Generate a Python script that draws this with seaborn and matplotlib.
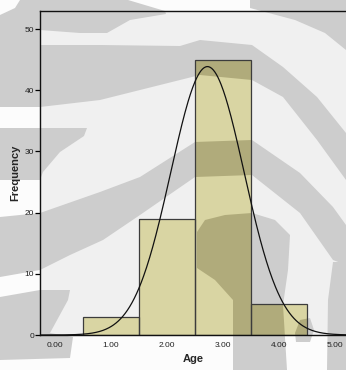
import numpy as np
import pandas as pd
import matplotlib
matplotlib.use("Agg")
import matplotlib.pyplot as plt
import seaborn as sns
from matplotlib.patches import Polygon, Rectangle

# data
ages = [1, 2, 3, 4]
counts = [3, 19, 45, 5]
x_ticks = [0, 1, 2, 3, 4, 5]
x_tick_labels = ["0.00", "1.00", "2.00", "3.00", "4.00", "5.00"]
y_ticks = [0, 10, 20, 30, 40, 50]

df = pd.DataFrame({"Age": ages, "n": counts})

sns.set_theme(style="white")
plt.rcParams["font.family"] = ["Liberation Sans", "DejaVu Sans"]

W, H = 346, 370
fig = plt.figure(figsize=(W / 100, H / 100), dpi=100)

# zebra-like backdrop (decoration only, pixel coords of the figure)
bg = fig.add_axes([0, 0, 1, 1], zorder=0)
bg.set_xlim(0, W)
bg.set_ylim(H, 0)
bg.axis("off")
bg.add_patch(Rectangle((0, 0), W, H, color="#fcfcfc", zorder=0))
bg.add_patch(Rectangle((40, 11), 306, 324, color="#f0f0f0", zorder=0))

bands = [
    # top-left strip and left margin
    [(20, 0), (128, 0), (165, 11), (166, 14), (130, 20), (107, 33), (80, 33),
     (40, 30), (40, 107), (0, 107), (0, 15), (15, 8)],
    # big upper arc
    [(40, 45), (100, 45), (180, 46), (200, 40), (252, 45), (283, 67), (317, 97),
     (346, 133), (346, 180), (317, 140), (283, 97), (252, 80), (200, 75),
     (180, 80), (100, 100), (40, 107)],
    # top right
    [(250, 0), (346, 0), (346, 50), (325, 33), (295, 20), (265, 12), (250, 8)],
    # small wedge left
    [(0, 128), (87, 128), (84, 136), (60, 152), (43, 172), (40, 180), (0, 180)],
    # middle arc
    [(0, 217), (40, 213), (100, 192), (140, 177), (195, 142), (252, 140),
     (300, 173), (333, 207), (346, 225), (346, 265), (333, 260), (300, 213),
     (252, 175), (195, 177), (140, 215), (103, 240), (70, 255), (40, 270),
     (0, 277)],
    # lower right
    [(197, 232), (205, 220), (225, 215), (252, 213), (275, 220), (290, 235),
     (288, 270), (283, 305), (287, 370), (233, 370), (233, 300), (215, 280),
     (197, 268)],
    [(295, 333), (300, 320), (310, 318), (314, 330), (310, 342), (296, 342)],
    [(333, 262), (346, 262), (346, 370), (327, 370), (328, 300)],
    # lower left
    [(0, 297), (40, 290), (70, 290), (68, 300), (50, 333), (73, 337), (70, 358),
     (0, 360)],
]
for b in bands:
    bg.add_patch(Polygon(b, closed=True, color="#cdcdcd", lw=0, zorder=1))

ax = fig.add_axes([40 / W, 35 / H, 306 / W, 324 / H], zorder=1)
ax.patch.set_alpha(0)

sns.histplot(data=df, x="Age", weights="n", discrete=True, stat="count",
             color="#d9d5a3", alpha=1, edgecolor="none", ax=ax)

bars = list(ax.patches)
for p in bars:
    for b in bands:
        ov = Polygon(b, closed=True, color="#b0ab7b", lw=0, zorder=1.5,
                     transform=bg.transData)
        ax.add_patch(ov)
        ov.set_clip_path(p)
    ax.add_patch(Rectangle(p.get_xy(), p.get_width(), p.get_height(), fill=False,
                           ec="#3c3c3c", lw=0.9, zorder=2))

# normal curve from the sample mean and sd
vals = np.repeat(ages, counts)
mu, sd = vals.mean(), vals.std(ddof=1)
xs = np.linspace(-0.27, 5.2, 400)
ys = len(vals) * 1.0 * np.exp(-0.5 * ((xs - mu) / sd) ** 2) / (sd * np.sqrt(2 * np.pi))
ax.plot(xs, ys, color="#111111", lw=0.9, zorder=3)

ax.set_xlim(-0.268, 5.196)
ax.set_ylim(0, 52.95)
ax.set_xticks(x_ticks)
ax.set_xticklabels(x_tick_labels)
ax.set_yticks(y_ticks)
ax.tick_params(axis="x", length=0, pad=5, labelsize=6, labelcolor="#222222")
ax.tick_params(axis="y", left=True, length=3.6, width=0.9, color="black", pad=0.8,
               labelsize=6, labelcolor="#222222")
ax.set_xlabel("Age", fontsize=8, fontweight="bold", labelpad=4)
ax.set_ylabel("Frequency", fontsize=8, fontweight="bold", labelpad=3)
for s in ["left", "bottom", "top"]:
    ax.spines[s].set_color("#111111")
    ax.spines[s].set_linewidth(1)
ax.spines["right"].set_visible(False)
ax.grid(False)

fig.savefig("out.png", dpi=100)
